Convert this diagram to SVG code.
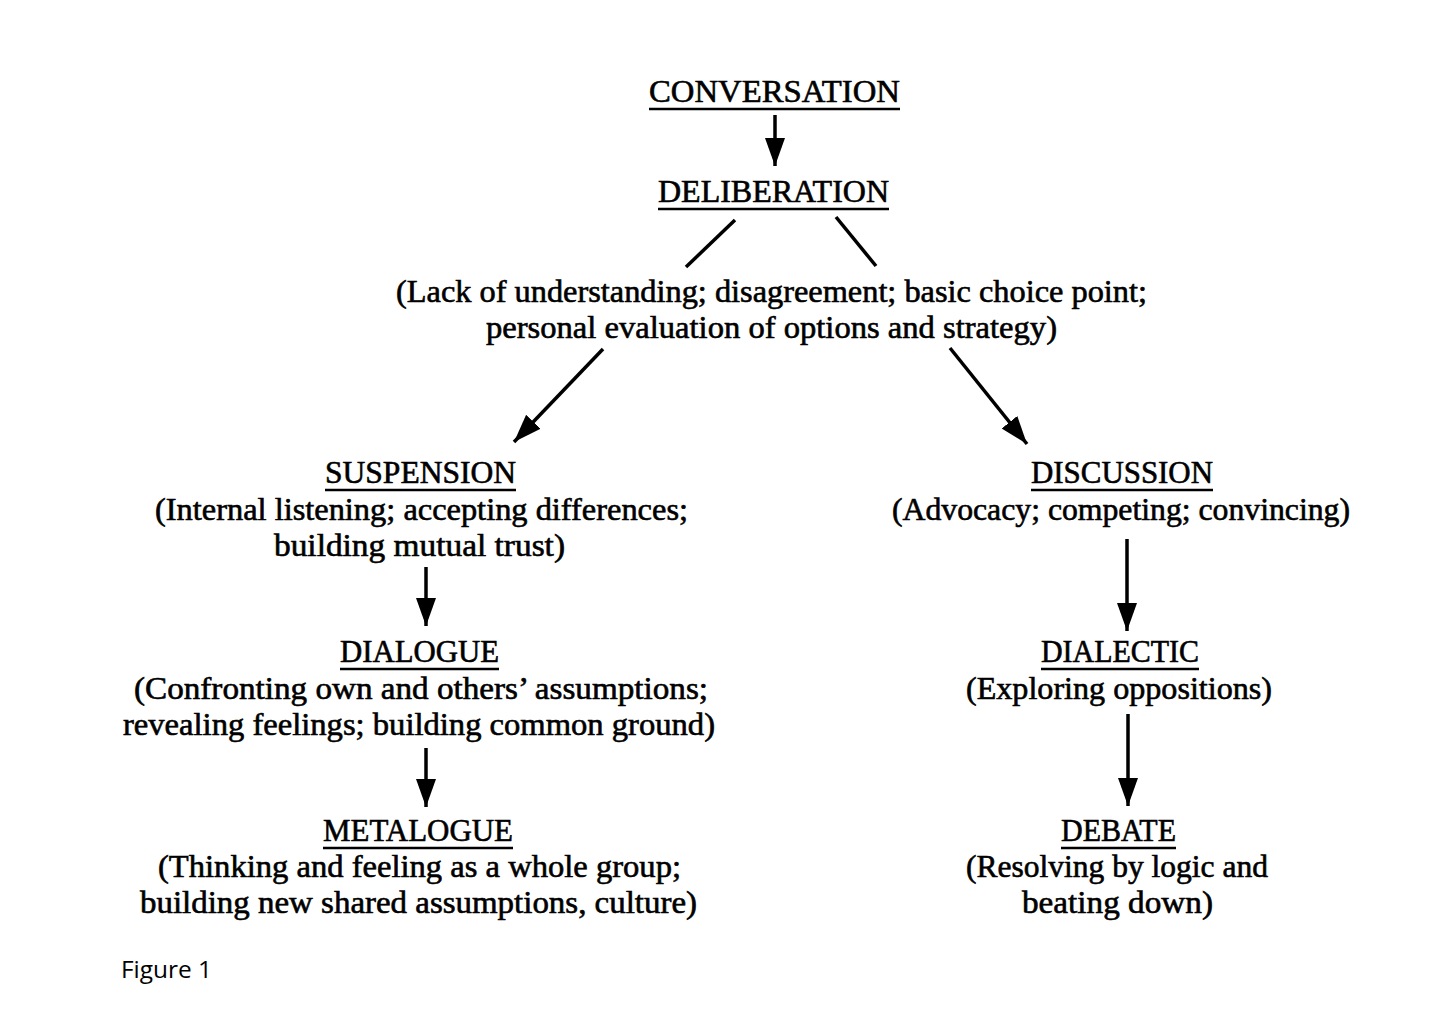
<svg xmlns="http://www.w3.org/2000/svg" width="1456" height="1035" viewBox="0 0 1456 1035">
<style>
.t{font-family:"Liberation Serif","DejaVu Serif",serif;font-size:31px;fill:#000;stroke:#000;stroke-width:0.6;text-anchor:middle}
.u{stroke:#000;stroke-width:2.5}
.c{stroke:#000;stroke-width:3.5;fill:none}
.f{font-family:"Open Sans","DejaVu Sans",sans-serif;font-size:24px;fill:#000}
</style>
<defs>
<marker id="ah" markerUnits="userSpaceOnUse" markerWidth="30" markerHeight="24" viewBox="0 0 30 24" refX="28" refY="12" orient="auto">
<path d="M0,2 L28,12 L0,22 Z" fill="#000"/>
</marker>
</defs>
<rect width="1456" height="1035" fill="#fff"/>
<g id="connectors">
<line class="c" x1="775" y1="115" x2="775" y2="166" marker-end="url(#ah)"/>
<line class="c" x1="735" y1="220" x2="686" y2="267"/>
<line class="c" x1="836" y1="217" x2="876" y2="266"/>
<line class="c" x1="603" y1="349" x2="514" y2="442" marker-end="url(#ah)"/>
<line class="c" x1="950" y1="348" x2="1027" y2="444" marker-end="url(#ah)"/>
<line class="c" x1="426" y1="567" x2="426" y2="626" marker-end="url(#ah)"/>
<line class="c" x1="426" y1="748" x2="426" y2="807" marker-end="url(#ah)"/>
<line class="c" x1="1127" y1="539" x2="1127" y2="631" marker-end="url(#ah)"/>
<line class="c" x1="1128" y1="714" x2="1128" y2="806" marker-end="url(#ah)"/>
</g>
<g id="conversation">
<text class="t" x="774.5" y="102" textLength="251" lengthAdjust="spacingAndGlyphs">CONVERSATION</text>
<line class="u" x1="649" y1="109" x2="900" y2="109"/>
</g>
<g id="deliberation">
<text class="t" x="773.5" y="202" textLength="231" lengthAdjust="spacingAndGlyphs">DELIBERATION</text>
<line class="u" x1="658" y1="209" x2="889" y2="209"/>
</g>
<g id="choice">
<text class="t" x="771.5" y="302" textLength="751" lengthAdjust="spacingAndGlyphs">(Lack of understanding; disagreement; basic choice point;</text>
<text class="t" x="771.5" y="338" textLength="571" lengthAdjust="spacingAndGlyphs">personal evaluation of options and strategy)</text>
</g>
<g id="suspension">
<text class="t" x="420.5" y="483" textLength="191" lengthAdjust="spacingAndGlyphs">SUSPENSION</text>
<line class="u" x1="325" y1="490" x2="516" y2="490"/>
<text class="t" x="421.5" y="520" textLength="533" lengthAdjust="spacingAndGlyphs">(Internal listening; accepting differences;</text>
<text class="t" x="419.5" y="556" textLength="291" lengthAdjust="spacingAndGlyphs">building mutual trust)</text>
</g>
<g id="dialogue">
<text class="t" x="419.5" y="662" textLength="159" lengthAdjust="spacingAndGlyphs">DIALOGUE</text>
<line class="u" x1="340" y1="669" x2="499" y2="669"/>
<text class="t" x="421" y="699" textLength="574" lengthAdjust="spacingAndGlyphs">(Confronting own and others’ assumptions;</text>
<text class="t" x="419" y="735" textLength="592" lengthAdjust="spacingAndGlyphs">revealing feelings; building common ground)</text>
</g>
<g id="metalogue">
<text class="t" x="418" y="841" textLength="190" lengthAdjust="spacingAndGlyphs">METALOGUE</text>
<line class="u" x1="323" y1="848" x2="513" y2="848"/>
<text class="t" x="419.5" y="877" textLength="523" lengthAdjust="spacingAndGlyphs">(Thinking and feeling as a whole group;</text>
<text class="t" x="418.5" y="913" textLength="557" lengthAdjust="spacingAndGlyphs">building new shared assumptions, culture)</text>
</g>
<g id="discussion">
<text class="t" x="1122" y="483" textLength="182" lengthAdjust="spacingAndGlyphs">DISCUSSION</text>
<line class="u" x1="1031" y1="490" x2="1213" y2="490"/>
<text class="t" x="1121" y="520" textLength="458" lengthAdjust="spacingAndGlyphs">(Advocacy; competing; convincing)</text>
</g>
<g id="dialectic">
<text class="t" x="1120" y="662" textLength="158" lengthAdjust="spacingAndGlyphs">DIALECTIC</text>
<line class="u" x1="1041" y1="669" x2="1199" y2="669"/>
<text class="t" x="1119" y="699" textLength="306" lengthAdjust="spacingAndGlyphs">(Exploring oppositions)</text>
</g>
<g id="debate">
<text class="t" x="1118.5" y="841" textLength="115" lengthAdjust="spacingAndGlyphs">DEBATE</text>
<line class="u" x1="1061" y1="848" x2="1176" y2="848"/>
<text class="t" x="1117" y="877" textLength="302" lengthAdjust="spacingAndGlyphs">(Resolving by logic and</text>
<text class="t" x="1117.5" y="913" textLength="191" lengthAdjust="spacingAndGlyphs">beating down)</text>
</g>
<text class="f" x="121" y="978" textLength="91" lengthAdjust="spacingAndGlyphs">Figure 1</text>
</svg>
